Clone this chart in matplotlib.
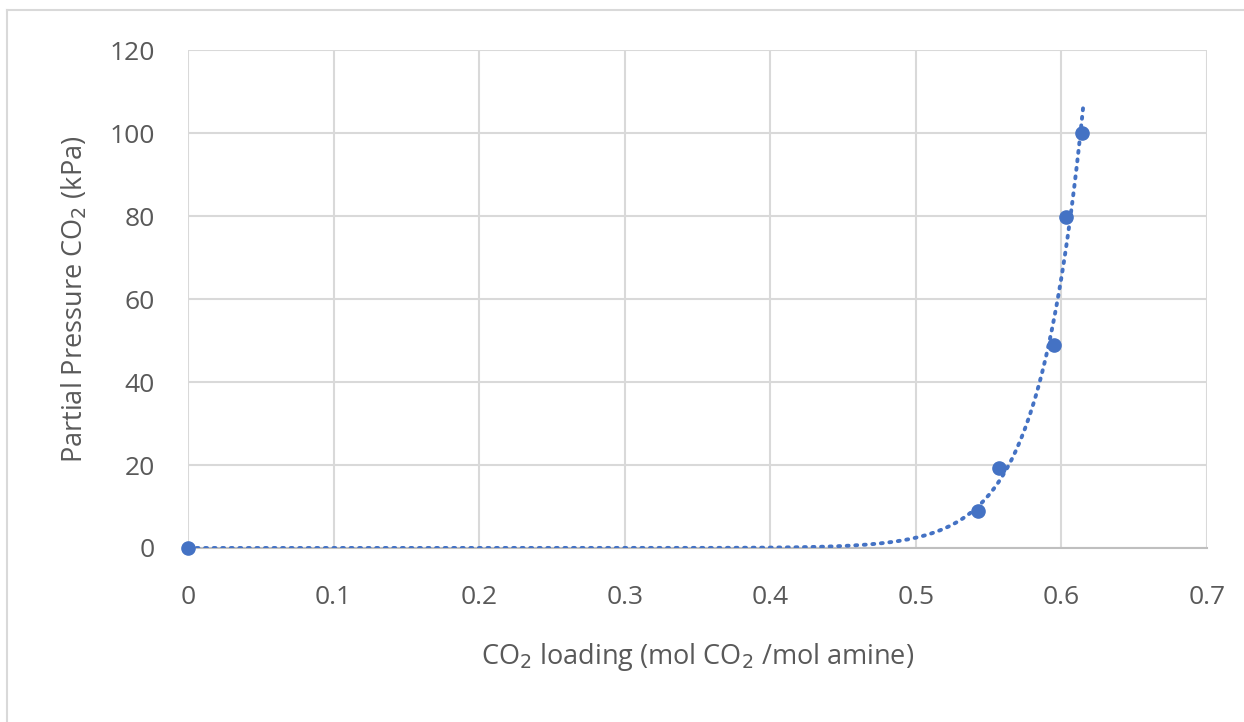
import numpy as np
import matplotlib.pyplot as plt
from matplotlib.lines import Line2D

# data
loading = [0.0, 0.543, 0.557, 0.595, 0.603, 0.614]
pressure = [0.0, 8.9, 19.2, 49.0, 79.8, 99.9]
xticks = [0, 0.1, 0.2, 0.3, 0.4, 0.5, 0.6, 0.7]
xticklabels = ['0', '0.1', '0.2', '0.3', '0.4', '0.5', '0.6', '0.7']
yticks = [0, 20, 40, 60, 80, 100, 120]

blue = '#4472C4'
grey_text = '#595959'
plt.rcParams['font.family'] = ['Open Sans', 'DejaVu Sans']

fig = plt.figure(figsize=(12.44, 7.22), dpi=100)
ax = fig.add_axes([0.1511, 0.241, 0.8192, 0.6897])

# exponential trendline (like Excel), fitted on the non-zero points
x = np.array(loading)
y = np.array(pressure)
m = y > 0
b, ln_a = np.polyfit(x[m], np.log(y[m]), 1)
xt = np.linspace(0, 0.615, 400)
ax.plot(xt, np.exp(ln_a) * np.exp(b * xt), color=blue, lw=2.8,
        ls=(0, (0.5, 1.7)), dash_capstyle='round', zorder=3)

ax.plot(loading, pressure, 'o', color=blue, ms=9.5, zorder=4, clip_on=False)

ax.set_xlim(0, 0.7)
ax.set_ylim(0, 120)
ax.set_xticks(xticks)
ax.set_xticklabels(xticklabels)
ax.set_yticks(yticks)
ax.grid(True, color='#d9d9d9', lw=1.5)
ax.set_axisbelow(True)
for s in ['top', 'right', 'left']:
    ax.spines[s].set_visible(False)
ax.spines['bottom'].set_color('#bfbfbf')
ax.spines['bottom'].set_linewidth(1.5)
ax.tick_params(length=0, labelsize=19, labelcolor=grey_text)
ax.tick_params(axis='x', pad=27)
ax.tick_params(axis='y', pad=24)

ax.set_xlabel('CO$_2$ loading (mol CO$_2$ /mol amine)', fontsize=19.5,
              color=grey_text, labelpad=22)
ax.set_ylabel('Partial Pressure CO$_2$ (kPa)', fontsize=19.5,
              color=grey_text, labelpad=14)

# outer chart border
fig.add_artist(Line2D([7 / 1244, 7 / 1244], [0, 1 - 10 / 722],
                      transform=fig.transFigure, color='#d9d9d9', lw=1.5))
fig.add_artist(Line2D([7 / 1244, 1], [1 - 10 / 722, 1 - 10 / 722],
                      transform=fig.transFigure, color='#d9d9d9', lw=1.5))

fig.savefig('out.png', dpi=100)
